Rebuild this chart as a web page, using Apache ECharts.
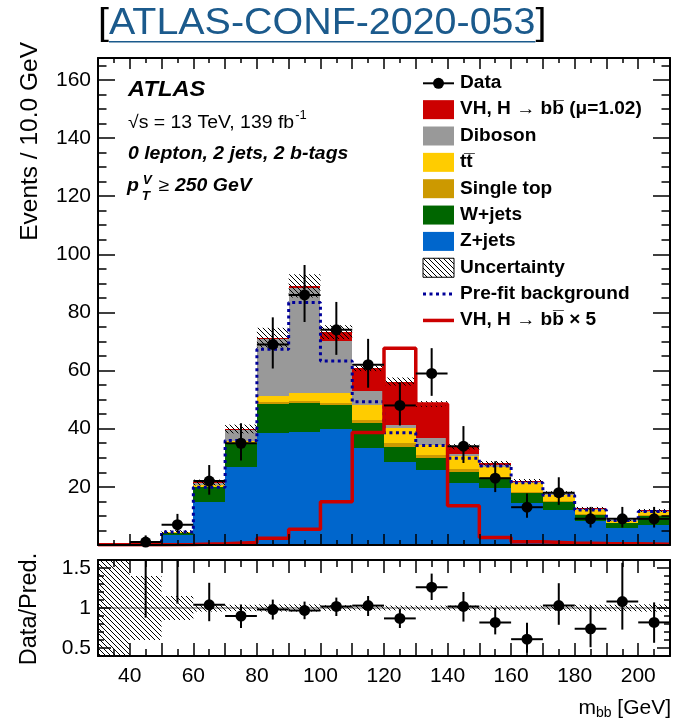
<!DOCTYPE html>
<html><head><meta charset="utf-8">
<script src="https://cdn.jsdelivr.net/npm/echarts@6/dist/echarts.min.js"></script>
<style>html,body{margin:0;padding:0;background:#fff}#c{width:676px;height:724px}</style>
</head><body><div id="c"></div>
<script>
// ---------------- data ----------------
const binEdges  = [30,40,50,60,70,80,90,100,110,120,130,140,150,160,170,180,190,200,210];
const zJets     = [0.15,0.30,3.4,14.7,26.7,38.4,38.7,39.8,33.3,28.7,25.8,21.4,19.5,14.3,12.0,8.4,6.0,6.9];
const wJets     = [0.02,0.05,0.8,5.1,8.1,10.1,10.3,8.4,8.8,5.1,4.0,3.8,3.4,3.5,2.9,1.9,1.4,3.1];
const singleTop = [0,0.01,0.05,0.2,0.3,0.6,0.6,0.8,0.9,1.2,1.2,0.8,0.6,0.5,0.3,0.3,0.1,0.3];
const ttbar     = [0.01,0.02,0.1,0.5,0.8,2.2,2.6,3.2,5.2,5.2,3.4,4.6,3.4,2.9,2.0,1.4,0.8,1.2];
const diboson   = [0.02,0.03,0.1,0.9,3.7,19.5,36.1,17.8,4.6,1.1,2.3,0.7,0.6,0.6,0.6,0.4,0.2,0.2];
const vhSignal  = [0.01,0.02,0.03,0.1,0.3,0.5,0.8,3.2,8.0,14.9,11.8,2.5,0.6,0.3,0.1,0.2,0.1,0.2];
const bkgUnc    = [0.2,0.3,0.6,1.0,1.5,3.4,4.0,2.4,1.0,1.4,1.0,0.9,0.8,0.6,0.6,0.5,0.4,0.5];
const preFitBkg = [0.2,0.4,4.5,19.9,35.9,67.3,83.4,63.3,49.3,38.6,34.2,29.8,27.2,21.4,17.1,12.0,8.4,11.5];
const vhTimes5  = [0.05,0.1,0.2,0.4,0.9,2.3,5.4,14.9,38.7,67.7,48.5,13.5,2.6,1.1,0.7,0.5,0.4,0.3];
const dataVals  = [null,1,7,22,35,69,86,74,62,48,59,34,23,13,18,9,9,9];
const dataErrLo = [null,0.83,2.6,4.7,5.9,8.3,9.3,8.6,7.9,6.9,7.7,5.8,4.8,3.6,4.2,3.0,3.0,3.0];
const dataErrHi = [null,2.3,3.7,5.5,6.9,9.3,10.3,9.6,8.9,7.9,8.7,6.9,5.8,4.7,5.3,4.1,4.1,4.1];
const ratioVals = [null,2.0,1.7,1.04,0.90,0.98,0.97,1.02,1.03,0.87,1.26,1.02,0.82,0.61,1.03,0.74,1.08,0.82];
const ratioLo   = [null,0.88,1.056,0.835,0.75,0.856,0.86,0.9,0.9,0.75,1.1,0.83,0.67,0.44,0.79,0.51,0.73,0.565];
const ratioHi   = [null,3,3,1.315,1.045,1.105,1.08,1.13,1.15,0.99,1.43,1.2,1.0,0.815,1.31,1.02,1.565,1.07];
const ratioUnc  = [0.7,0.4,0.15,0.045,0.04,0.045,0.045,0.035,0.03,0.03,0.03,0.03,0.03,0.03,0.035,0.04,0.04,0.045];
const xTickLabels = [40,60,80,100,120,140,160,180,200];
const ratioTickLabels = [0.5,1,1.5];

// ---------------- helpers ----------------
const FF = '"Liberation Sans", Arial, Helvetica, sans-serif';
const SX = 1.08;
const nb = zJets.length;
const mctx = document.createElement('canvas').getContext('2d');
function tw(t, font){ mctx.font = font; return mctx.measureText(t).width; }

function hatchLines(x0, y0, x1, y1, s, w){
  const out = [];
  if (x1 <= x0 || y1 <= y0) return out;
  const cStart = Math.ceil((y0 - x1) / s) * s;
  for (let c = cStart; c <= y1 - x0; c += s){
    const xa = Math.max(x0, y0 - c), xb = Math.min(x1, y1 - c);
    if (xb > xa) out.push({type:'line', shape:{x1:xa, y1:xa + c, x2:xb, y2:xb + c},
      style:{stroke:'#000', lineWidth:w || 1}});
  }
  return out;
}

const comps = [
  {name:'Z+jets', vals:zJets, color:'#0066cc'},
  {name:'W+jets', vals:wJets, color:'#006600'},
  {name:'Single top', vals:singleTop, color:'#cc9900'},
  {name:'tt\u0305', vals:ttbar, color:'#ffcc00'},
  {name:'Diboson', vals:diboson, color:'#999999'},
  {name:'VH', vals:vhSignal, color:'#cc0000'}
];

const series = [];
let base = new Array(nb).fill(0);
comps.forEach(c => {
  const rows = c.vals.map((v,i) => [binEdges[i], binEdges[i+1], base[i], base[i] + v]);
  base = base.map((b,i) => b + c.vals[i]);
  series.push({
    type:'custom', name:c.name, xAxisIndex:0, yAxisIndex:0, data:rows, z:2,
    encode:{x:[0,1], y:[2,3]}, silent:true,
    renderItem:(params, api) => {
      const a = api.coord([api.value(0), api.value(3)]);
      const b = api.coord([api.value(1), api.value(2)]);
      const x0 = Math.round(a[0]), x1 = Math.round(b[0]);
      const y0 = Math.round(a[1]), y1 = Math.round(b[1]);
      return {type:'rect', shape:{x:x0, y:y0, width:x1 - x0, height:y1 - y0}, style:{fill:c.color}};
    }
  });
});
const total = base;

function hatchSeries(rows, xi, yi){
  return {
    type:'custom', xAxisIndex:xi, yAxisIndex:yi, data:rows, z:4, silent:true,
    encode:{x:[0,1], y:[2,3]},
    renderItem:(params, api) => {
      const cs = params.coordSys;
      const a = api.coord([api.value(0), api.value(3)]);
      const b = api.coord([api.value(1), api.value(2)]);
      const y0 = Math.max(a[1], cs.y), y1 = Math.min(b[1], cs.y + cs.height);
      return {type:'group', children:hatchLines(a[0], y0, b[0], y1, 5, 1)};
    }
  };
}
series.push(hatchSeries(total.map((t,i) => [binEdges[i], binEdges[i+1], t - bkgUnc[i], t + bkgUnc[i]]), 0, 0));

function stepData(vals){ return binEdges.map((e,i) => [e, vals[Math.min(i, vals.length - 1)]]); }
series.push({type:'line', xAxisIndex:0, yAxisIndex:0, step:'end', data:stepData(preFitBkg), symbol:'none', z:5,
  silent:true, lineStyle:{color:'#000099', width:3, type:[3,3.5], cap:'butt'}});
series.push({type:'line', xAxisIndex:0, yAxisIndex:0, step:'end', data:stepData(vhTimes5), symbol:'none', z:6,
  silent:true, lineStyle:{color:'#cc0000', width:3.5}});

function pointSeries(rows, xi, yi){
  return {
    type:'custom', xAxisIndex:xi, yAxisIndex:yi, data:rows, z:8, silent:true,
    encode:{x:[0,4,5], y:[1,2,3]},
    renderItem:(params, api) => {
      const cs = params.coordSys, top = cs.y, bot = cs.y + cs.height;
      const c = api.coord([api.value(0), api.value(1)]);
      const lo = api.coord([api.value(0), api.value(2)])[1];
      const hi = api.coord([api.value(0), api.value(3)])[1];
      const xl = api.coord([api.value(4), api.value(1)])[0];
      const xr = api.coord([api.value(5), api.value(1)])[0];
      const ch = [];
      const ya = Math.max(top, Math.min(bot, hi)), yb = Math.max(top, Math.min(bot, lo));
      if (yb > ya) ch.push({type:'line', shape:{x1:c[0], y1:ya, x2:c[0], y2:yb}, style:{stroke:'#000', lineWidth:2}});
      if (c[1] >= top && c[1] <= bot){
        ch.push({type:'line', shape:{x1:xl, y1:c[1], x2:xr, y2:c[1]}, style:{stroke:'#000', lineWidth:2}});
        ch.push({type:'circle', shape:{cx:c[0], cy:c[1], r:5.5}, style:{fill:'#000'}});
      }
      return {type:'group', children:ch};
    }
  };
}
const dataRows = [];
dataVals.forEach((v,i) => { if (v !== null) dataRows.push([(binEdges[i]+binEdges[i+1])/2, v, v - dataErrLo[i], v + dataErrHi[i], binEdges[i], binEdges[i+1]]); });
series.push(pointSeries(dataRows, 0, 0));

// ratio panel
series.push({type:'line', xAxisIndex:2, yAxisIndex:2, data:[[30,1],[210,1]], symbol:'none', z:3, silent:true,
  lineStyle:{color:'#8c8c8c', width:1.5}});
series.push(hatchSeries(ratioUnc.map((u,i) => [binEdges[i], binEdges[i+1], 1 - u, 1 + u]), 2, 2));
const ratioRows = [];
ratioVals.forEach((v,i) => { if (v !== null) ratioRows.push([(binEdges[i]+binEdges[i+1])/2, v, ratioLo[i], ratioHi[i], binEdges[i], binEdges[i+1]]); });
series.push(pointSeries(ratioRows, 2, 2));

// ---------------- axes ----------------
const tickStyle = {color:'#000', width:1.5};
function xAx(grid, pos, tickLen, minorLen, labels){
  return {type:'value', gridIndex:grid, position:pos, min:30, max:210, interval:10, z:10,
    axisLine:{show:true, onZero:false, lineStyle:{color:'#000', width:2}},
    axisTick:{show:true, inside:true, length:tickLen, lineStyle:tickStyle},
    minorTick:{show:true, splitNumber:2, length:minorLen, lineStyle:tickStyle},
    splitLine:{show:false},
    axisLabel:labels ? {show:true, interval:0, margin:10, color:'#000', fontSize:21, fontFamily:FF,
      formatter:v => xTickLabels.indexOf(Math.round(v)) >= 0 ? String(Math.round(v)) : ''} : {show:false}};
}
function yMain(pos, labels){
  return {type:'value', gridIndex:0, position:pos, min:0, max:167.5, interval:20, z:10,
    axisLine:{show:true, onZero:false, lineStyle:{color:'#000', width:2}},
    axisTick:{show:true, inside:true, length:17, lineStyle:tickStyle},
    minorTick:{show:true, splitNumber:4, length:8.5, lineStyle:tickStyle},
    splitLine:{show:false},
    axisLabel:labels ? {show:true, margin:7, color:'#000', fontSize:21, fontFamily:FF, showMaxLabel:false,
      formatter:v => (v > 0 && Math.abs(v % 20) < 1e-6) ? String(v) : ''} : {show:false}};
}
function yRatio(grid, pos, labels){
  return {type:'value', gridIndex:grid, position:pos, min:0.4, max:1.6, z:10,
    axisLine:{show:true, onZero:false, lineStyle:{color:'#000', width:2}},
    axisTick:{show:true, inside:true, length:13, lineStyle:tickStyle, customValues:ratioTickLabels},
    splitLine:{show:false},
    axisLabel:labels ? {show:true, margin:7, color:'#000', fontSize:21, fontFamily:FF, customValues:ratioTickLabels,
      formatter:v => String(Math.round(v*10)/10)} : {show:false}};
}
function yRatioMinor(pos){
  return {type:'value', gridIndex:2, position:pos, min:0.4, max:1.6, interval:0.1, z:10,
    axisLine:{show:false}, axisTick:{show:true, inside:true, length:6, lineStyle:tickStyle},
    splitLine:{show:false}, axisLabel:{show:false}};
}

const xAxis = [
  xAx(0,'bottom',11,5,false), xAx(0,'top',11,5,false),
  xAx(1,'bottom',13,7,true), xAx(1,'top',13,7,false),
  {type:'value', gridIndex:2, min:30, max:210, show:false}
];
const yAxis = [
  yMain('left', true), yMain('right', false),
  yRatio(1,'left', true), yRatio(1,'right', false),
  yRatioMinor('left'), yRatioMinor('right')
];

// ---------------- text / legend graphics ----------------
const G = [];
function txt(x, y, text, font, opt){
  opt = opt || {};
  return {type:'text', x:x, y:y, rotation:opt.rot || 0, scaleX:opt.sx || 1, scaleY:opt.sy || 1, z:20, silent:true,
    style:{text:text, font:font, fill:opt.fill || '#000', align:opt.align || 'left', verticalAlign:opt.va || 'middle'}};
}
function segs(x, y, parts){
  parts.forEach(p => {
    const sx = p.sx || SX;
    G.push(txt(x, y + (p.dy || 0), p.t, p.font, {sx:sx, fill:p.fill}));
    x += tw(p.t, p.font) * sx + (p.gap || 0);
  });
  return x;
}

// title
const titleFont = '36.5px ' + FF;
let tx = 98;
tx = segs(tx, 23.5, [{t:'[', font:titleFont}]);
const tStart = tx;
tx = segs(tx, 23.5, [{t:'ATLAS-CONF-2020-053', font:titleFont, fill:'#1b5a8c'}]);
G.push({type:'rect', shape:{x:tStart, y:41, width:tx - tStart, height:1.6}, style:{fill:'#1b5a8c'}, z:20, silent:true});
segs(tx, 23.5, [{t:']', font:titleFont}]);

// ATLAS block
const bi = 'italic bold ';
segs(128, 89.5, [{t:'ATLAS', font:bi + '22px ' + FF}]);
const sxEnd = segs(128, 123.5, [{t:'\u221As = 13 TeV, 139 fb', font:'18px ' + FF}]);
segs(sxEnd + 1, 116, [{t:'-1', font:'12px ' + FF}]);
segs(128, 153.7, [{t:'0 lepton, 2 jets, 2 b-tags', font:bi + '18px ' + FF}]);
const pEnd = segs(127, 186, [{t:'p', font:bi + '18px ' + FF}]);
segs(pEnd + 4, 180.5, [{t:'V', font:bi + '12.5px ' + FF}]);
segs(pEnd + 3, 196.5, [{t:'T', font:bi + '12.5px ' + FF}]);
segs(pEnd + 20, 186, [{t:'\u2265 ', font:'18px ' + FF}, {t:'250 GeV', font:bi + '18px ' + FF}]);

// legend
const LX = 423, LW = 31, LH = 19, LT = 460, L0 = 83.3, LD = 26.35;
const lf = 'bold 17.5px ' + FF;
const legendItems = [
  {kind:'data', label:'Data'},
  {kind:'box', color:'#cc0000', label:'VH, H \u2192 bb\u0305 (\u03bc=1.02)'},
  {kind:'box', color:'#999999', label:'Diboson'},
  {kind:'box', color:'#ffcc00', label:'tt\u0305'},
  {kind:'box', color:'#cc9900', label:'Single top'},
  {kind:'box', color:'#006600', label:'W+jets'},
  {kind:'box', color:'#0066cc', label:'Z+jets'},
  {kind:'hatch', label:'Uncertainty'},
  {kind:'dotted', label:'Pre-fit background'},
  {kind:'line', label:'VH, H \u2192 bb\u0305 \u00d7 5'}
];
legendItems.forEach((it, i) => {
  const yc = L0 + i * LD;
  if (it.kind === 'data'){
    G.push({type:'line', shape:{x1:LX, y1:yc, x2:LX + LW, y2:yc}, style:{stroke:'#000', lineWidth:2}, z:20, silent:true});
    G.push({type:'circle', shape:{cx:LX + LW/2, cy:yc, r:5.5}, style:{fill:'#000'}, z:20, silent:true});
  } else if (it.kind === 'box'){
    G.push({type:'rect', shape:{x:LX, y:yc - LH/2, width:LW, height:LH}, style:{fill:it.color}, z:20, silent:true});
  } else if (it.kind === 'hatch'){
    hatchLines(LX, yc - LH/2, LX + LW, yc + LH/2, 5, 1).forEach(l => { l.z = 20; l.silent = true; G.push(l); });
    G.push({type:'rect', shape:{x:LX, y:yc - LH/2, width:LW, height:LH}, style:{fill:'none', stroke:'#000', lineWidth:1}, z:21, silent:true});
  } else if (it.kind === 'dotted'){
    G.push({type:'line', shape:{x1:LX, y1:yc, x2:LX + LW, y2:yc}, style:{stroke:'#000099', lineWidth:3, lineDash:[3,3.5]}, z:20, silent:true});
  } else {
    G.push({type:'line', shape:{x1:LX, y1:yc, x2:LX + LW, y2:yc}, style:{stroke:'#cc0000', lineWidth:3.5}, z:20, silent:true});
  }
  segs(LT, yc, [{t:it.label, font:lf, sx:1.09}]);
});

// axis titles
G.push(txt(30, 42, 'Events / 10.0 GeV', '24.5px ' + FF, {rot:Math.PI/2, align:'right'}));
G.push(txt(30, 609, 'Data/Pred.', '23.5px ' + FF, {rot:Math.PI/2, align:'center'}));
const mEndParts = [{t:'m', font:'21px ' + FF, sx:1}, {t:'bb', font:'14px ' + FF, sx:1, dy:5}, {t:' [GeV]', font:'21px ' + FF, sx:1}];
let mw = 0; mEndParts.forEach(p => mw += tw(p.t, p.font));
segs(671 - mw, 708, mEndParts);

// ---------------- chart ----------------
const chart = echarts.init(document.getElementById('c'), null, {renderer:'canvas'});
chart.setOption({
  animation:false,
  backgroundColor:'#fff',
  grid:[
    {left:98, top:58, width:572, height:487, show:false},
    {left:98, top:560, width:572, height:96, show:false},
    {left:98, top:560, width:572, height:96, show:false}
  ],
  xAxis:xAxis,
  yAxis:yAxis,
  series:series,
  graphic:{elements:G}
});
</script>
</body></html>
